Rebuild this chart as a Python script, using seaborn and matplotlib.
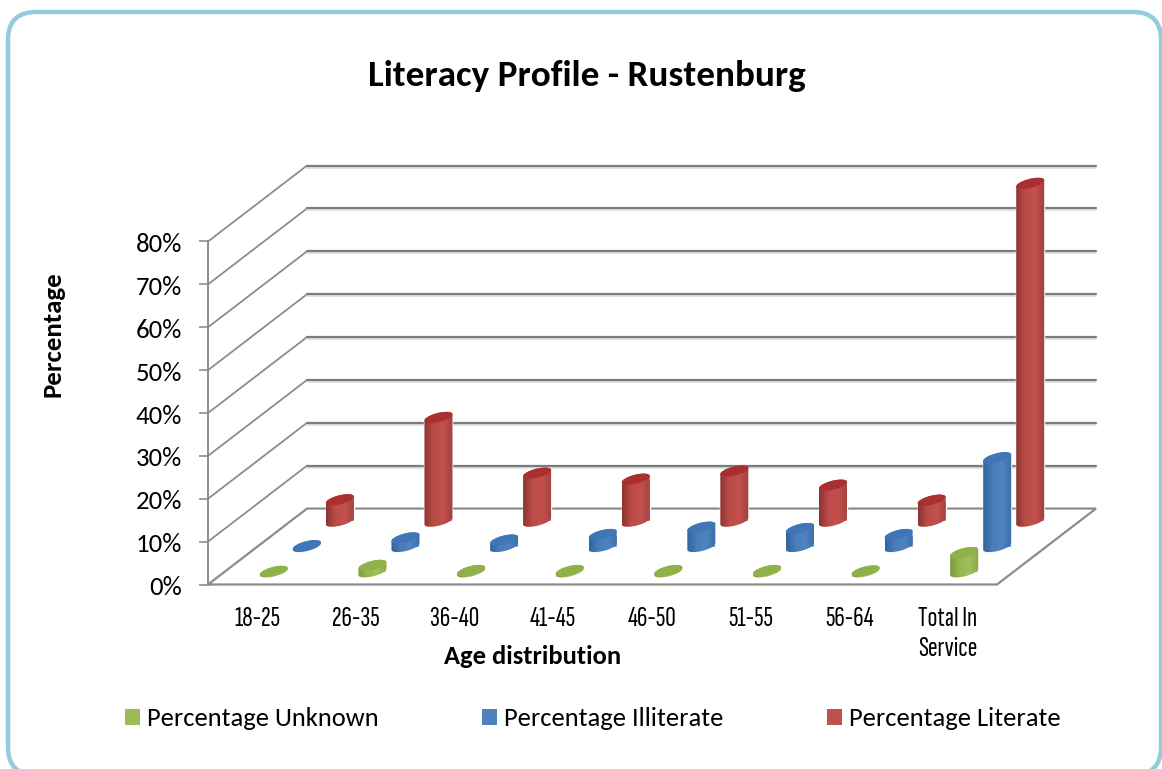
import numpy as np
import pandas as pd
import matplotlib
matplotlib.use("Agg")
import matplotlib.pyplot as plt
import seaborn as sns
from matplotlib import font_manager
from matplotlib.colors import LinearSegmentedColormap
from matplotlib.patches import FancyBboxPatch, Patch, Polygon
from matplotlib.transforms import Affine2D

# values
age_groups = ["18-25", "26-35", "36-40", "41-45", "46-50", "51-55", "56-64", "Total In\nService"]
pct_unknown = [0.1, 1.5, 0.3, 0.3, 0.3, 0.3, 0.2, 4.5]
pct_illiterate = [0.2, 2.0, 1.5, 2.8, 4.5, 4.2, 2.8, 20.7]
pct_literate = [5.0, 24.2, 11.2, 9.8, 11.7, 8.4, 4.9, 78.8]
y_ticks = list(range(0, 90, 10))
series_names = ["Percentage Unknown", "Percentage Illiterate", "Percentage Literate"]

W, H = 1162, 769
PX_X = 98.6  # pixels per category
PX_Y = 4.29  # pixels per percent
DEPTH_X = 99 / PX_X
DEPTH_Y = 76 / PX_Y

sns.set_theme(style="white")
installed = {f.name for f in font_manager.fontManager.ttflist}


def pick(*names):
    return next((n for n in names if n in installed), "DejaVu Sans")


body_font = pick("Carlito", "Lato")
narrow = pick("Saira Extra Condensed", "Sofia Sans Extra Condensed", "Liberation Sans Narrow", "Roboto")
plt.rcParams["font.family"] = [body_font, "DejaVu Sans"]

fig = plt.figure(figsize=(W / 100, H / 100), dpi=100, facecolor="white")
ax = fig.add_axes([208 / W, (H - 584.5) / H, (997 - 208) / W, 343 / H])
ax.set_facecolor("none")

# rounded frame, in pixels from the top left
# filled so agg does not clip the curve at the canvas edge
px = Affine2D().scale(1, -1).translate(0, H)
frame = FancyBboxPatch((8, 12), 1153, 763, boxstyle="round,pad=0,rounding_size=28",
                       transform=px, fc="white", ec="#93cddd", lw=3.2, zorder=-1)
fig.add_artist(frame)

# walls and floor
grid_color = "#7c7c7c"
shadow = ax.transData + Affine2D().translate(0, -2)
for v in y_ticks:
    if v == 0:
        continue
    ax.plot([-0.5, -0.5 + DEPTH_X], [v, v + DEPTH_Y], color="#8c8c8c", lw=1.3, clip_on=False, zorder=1)
    ax.plot([-0.5 + DEPTH_X, 7.5 + DEPTH_X], [v + DEPTH_Y, v + DEPTH_Y], color="#dcdcdc", lw=1.2,
            clip_on=False, zorder=1, transform=shadow)
    ax.plot([-0.5 + DEPTH_X, 7.5 + DEPTH_X], [v + DEPTH_Y, v + DEPTH_Y], color=grid_color, lw=1.6,
            clip_on=False, zorder=1.1)
floor_x = [-0.5, 7.5, 7.5 + DEPTH_X, -0.5 + DEPTH_X, -0.5]
floor_y = [0, 0, DEPTH_Y, DEPTH_Y, 0]
ax.plot(floor_x, floor_y, color="#8c8c8c", lw=1.6, clip_on=False, zorder=1.1, solid_joinstyle="miter")

# body gradient colours and top cap colour for each series
styles = [
    (pct_unknown, 1 / 6, "#9bbb59", ["#7d9a3c", "#98b854", "#a0bf5b", "#8ba848"], "#8fb14a", 5),
    (pct_illiterate, 1 / 2, "#4f81bd", ["#33639b", "#4a7dba", "#4f83c0", "#3c6ea8"], "#3f76b8", 4),
    (pct_literate, 5 / 6, "#c0504d", ["#8c3431", "#bd4c49", "#c2504d", "#a04240"], "#ab2f30", 3),
]

A = 14 / PX_X
B = 4.6 / PX_Y
RISE = 3.2 / PX_Y
t_low = np.linspace(np.pi, 2 * np.pi, 40)
t_up = np.linspace(0, np.pi, 40)
t_all = np.linspace(0, 2 * np.pi, 80)


def ellipse(cx, cy, t):
    return np.column_stack([cx + A * np.cos(t), cy + B * np.sin(t) + RISE * np.cos(t)])


for values, depth, color, stops, cap_color, z in styles:
    df = pd.DataFrame({"age": age_groups, "pct": values})
    sns.barplot(data=df, x="age", y="pct", ax=ax, color=color, width=2 * A, saturation=1, zorder=z)
    cmap = LinearSegmentedColormap.from_list("body", stops)
    for bar in ax.containers[-1]:
        # slide the bar back to its row on the floor
        bar.set_x(bar.get_x() + depth * DEPTH_X)
        bar.set_y(depth * DEPTH_Y)
        bar.set_clip_on(False)
        cx = bar.get_x() + bar.get_width() / 2
        y0 = bar.get_y()
        y1 = y0 + bar.get_height()
        body = Polygon(np.vstack([ellipse(cx, y0, t_low), ellipse(cx, y1, t_up)]), closed=True,
                       fc="none", ec="none", zorder=z)
        ax.add_patch(body)
        im = ax.imshow(np.linspace(0, 1, 64)[None, :], cmap=cmap, aspect="auto", zorder=z + 0.1,
                       extent=[cx - A, cx + A, y0 - 3 * B - RISE, y1 + 3 * B + RISE], interpolation="bilinear")
        im.set_clip_box(fig.bbox)
        im.set_clip_path(body)
        ax.add_patch(Polygon(ellipse(cx, y1, t_all), closed=True, fc=cap_color, ec="none",
                             zorder=z + 0.2, clip_on=False))

ax.set_xlim(-0.5, 7.5)
ax.set_ylim(0, 80)
ax.set_yticks(y_ticks)
ax.set_yticklabels([f"{v}%" for v in y_ticks], fontsize=19.3, color="black", va="center")
ax.tick_params(axis="y", length=6.5, width=1.2, color="#8c8c8c", left=True, pad=12)
ax.tick_params(axis="x", length=0, pad=16.5)
for lab in ax.get_yticklabels():
    lab.set_transform(lab.get_transform() + Affine2D().translate(0, -3))
for lab in ax.get_xticklabels():
    lab.set_family(narrow)
    lab.set_fontsize(21)
    lab.set_color("black")
    lab.set_linespacing(1.3)
sns.despine(ax=ax, bottom=True)
ax.spines["left"].set_color("#8c8c8c")
ax.spines["left"].set_linewidth(1.4)

ax.set_xlabel("Age distribution", fontsize=19.1, fontweight="bold", color="black")
ax.xaxis.set_label_coords((533 - 208) / 789, (584 - 656) / 343)
ax.xaxis.label.set_va("center")
ax.set_ylabel("Percentage", fontsize=19.4, fontweight="bold", color="black")
ax.yaxis.set_label_coords((53 - 208) / 789, (584 - 334) / 343)
ax.yaxis.label.set_va("center")

fig.text(587 / W, (H - 76) / H, "Literacy Profile - Rustenburg", fontsize=26.7, fontweight="bold",
         color="black", ha="center", va="center")

handles = [Patch(fc=s[2], ec="none", label=n) for s, n in zip(styles, series_names)]
fig.legend(handles=handles, ncols=3, frameon=False, fontsize=19.1, loc="center left",
           bbox_to_anchor=(125 / W, (H - 719) / H), borderaxespad=0, borderpad=0,
           handlelength=0.56, handleheight=0.56, handletextpad=0.26, columnspacing=3.91,
           labelcolor="black")

fig.savefig("out.png", dpi=100)
